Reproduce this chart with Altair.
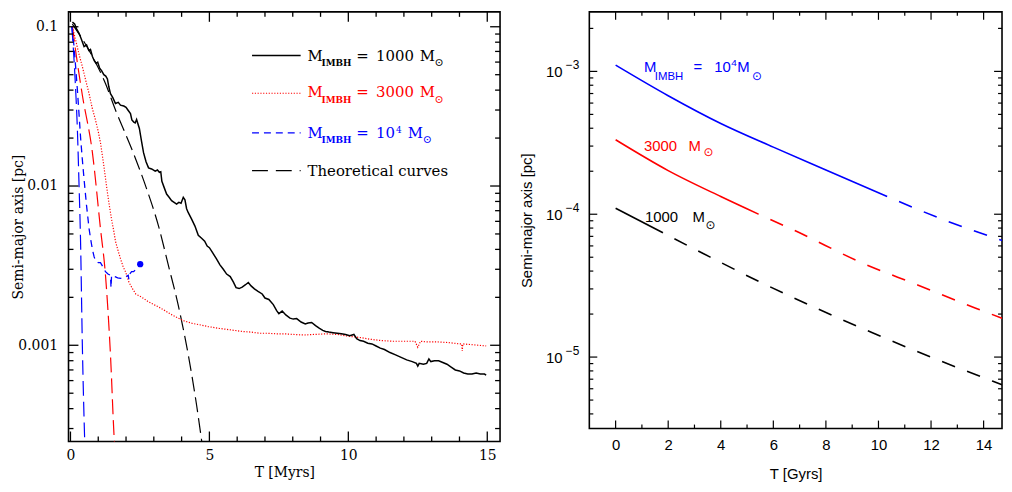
import altair as alt
import pandas as pd

SERIF = "DejaVu Serif"
SANS = "Liberation Sans"
RED = "#ff0000"
BLUE = "#0000ff"
BLACK = "#000000"

# ---------------- left panel: N-body runs (T in Myr, a in pc) ----------------
bh1000 = [(0.07,0.107),(0.15,0.104),(0.22,0.097),(0.31,0.091),(0.4,0.083),(0.49,0.075),(0.58,0.077),
          (0.66,0.071),(0.72,0.072),(0.79,0.065),(0.86,0.061),(0.92,0.059),(0.98,0.060),(1.05,0.055),
          (1.12,0.053),(1.2,0.050),(1.27,0.049),(1.33,0.047),(1.38,0.042),(1.44,0.038),(1.52,0.036),
          (1.62,0.033),(1.72,0.0335),(1.8,0.0322),(1.92,0.0318),(2.0,0.0312),(2.08,0.0298),(2.16,0.0285),
          (2.21,0.026),(2.28,0.0252),(2.33,0.0249),(2.38,0.0262),(2.43,0.0245),(2.48,0.023),(2.56,0.019),
          (2.63,0.0162),(2.72,0.0142),(2.81,0.013),(2.92,0.0128),(3.05,0.0124),(3.13,0.0126),(3.2,0.0122),
          (3.25,0.0123),(3.29,0.0107),(3.38,0.0097),(3.46,0.0089),(3.55,0.0085),(3.64,0.0081),(3.73,0.0079),
          (3.82,0.0077),(3.9,0.0079),(3.98,0.0078),(4.06,0.0085),(4.12,0.0082),(4.18,0.0072),(4.24,0.0068),
          (4.36,0.0062),(4.48,0.0056),(4.6,0.0049),(4.72,0.0047),(4.83,0.0045),(4.92,0.0042),(5.0,0.0041),
          (5.12,0.0038),(5.25,0.0035),(5.38,0.0032),(5.5,0.003),(5.62,0.0028),(5.75,0.0027),(5.86,0.0025),
          (5.96,0.0023),(6.07,0.00227),(6.18,0.00232),(6.3,0.0024),(6.4,0.00248),(6.5,0.00236),(6.62,0.00226),
          (6.75,0.00218),(6.9,0.0021),(7.0,0.00198),(7.14,0.00194),(7.3,0.0018),(7.42,0.00165),(7.5,0.00158),
          (7.62,0.00164),(7.75,0.00155),(7.9,0.00148),(8.02,0.00146),(8.14,0.00147),(8.3,0.0014),(8.45,0.00136),
          (8.55,0.00138),(8.68,0.00139),(8.82,0.00133),(8.95,0.00128),(9.08,0.00124),(9.18,0.00122),(9.3,0.00121),
          (9.45,0.0012),(9.6,0.00119),(9.75,0.00118),(9.9,0.00117),(10.05,0.00115),(10.2,0.00117),(10.3,0.0011),
          (10.42,0.00107),(10.55,0.00106),(10.7,0.00103),(10.85,0.00102),(11.0,0.00099),(11.15,0.00096),
          (11.3,0.00094),(11.5,0.0009),(11.7,0.00087),(11.9,0.00084),(12.1,0.00081),(12.3,0.00079),(12.45,0.00077),
          (12.5,0.00074),(12.55,0.00077),(12.7,0.00076),(12.82,0.00077),(12.9,0.00082),(12.97,0.00079),(13.1,0.0008),
          (13.25,0.0008),(13.4,0.00078),(13.55,0.00076),(13.7,0.00073),(13.85,0.0007),(14.0,0.00069),(14.15,0.00067),
          (14.3,0.00066),(14.45,0.00066),(14.6,0.00067),(14.75,0.00066),(14.9,0.00066),(14.96,0.00065)]

bh3000 = [(0.07,0.1),(0.19,0.082),(0.3,0.068),(0.43,0.056),(0.55,0.046),(0.67,0.038),(0.78,0.031),(0.9,0.026),
          (1.0,0.022),(1.08,0.0187),(1.2,0.0134),(1.29,0.0102),(1.38,0.0079),(1.47,0.0063),(1.56,0.0052),
          (1.62,0.0045),(1.7,0.004),(1.8,0.0035),(1.9,0.0031),(1.98,0.0029),(2.1,0.0025),(2.21,0.0023),
          (2.35,0.0021),(2.57,0.002),(2.8,0.00188),(3.0,0.0018),(3.17,0.00174),(3.4,0.00165),(3.6,0.00157),
          (3.88,0.00148),(4.1,0.00142),(4.4,0.00137),(4.7,0.00134),(4.95,0.00131),(5.3,0.00128),(5.6,0.00126),
          (5.9,0.00124),(6.2,0.00122),(6.5,0.00121),(6.8,0.00119),(7.1,0.00119),(7.4,0.00118),(7.7,0.00118),
          (8.0,0.00117),(8.4,0.00116),(8.8,0.00117),(9.2,0.00118),(9.6,0.00117),(10.0,0.00114),(10.4,0.00112),
          (10.8,0.00109),(11.2,0.00107),(11.6,0.00106),(12.0,0.00106),(12.4,0.00106),(12.5,0.00097),(12.6,0.00106),
          (12.8,0.00105),(13.2,0.00105),(13.6,0.00104),(14.0,0.00102),(14.08,0.00102),(14.1,0.00092),
          (14.12,0.00102),(14.4,0.00101),(14.96,0.00099)]

bh10k = [(0.05,0.1),(0.13,0.075),(0.19,0.055),(0.25,0.04),(0.31,0.028),(0.37,0.0195),(0.43,0.0145),(0.49,0.011),
         (0.58,0.0075),(0.67,0.0054),(0.73,0.0046),(0.79,0.004),(0.85,0.0036),(0.9,0.0034),(1.0,0.0033),
         (1.08,0.0033),(1.17,0.0031),(1.26,0.0029),(1.35,0.0028),(1.44,0.00275),(1.46,0.0023),(1.48,0.00275),
         (1.6,0.0027),(1.7,0.00265),(1.8,0.00263),(1.9,0.00266),(2.0,0.0027),(2.08,0.00275),(2.1,0.0026),
         (2.12,0.00278),(2.2,0.0029),(2.27,0.0029),(2.36,0.003),(2.44,0.0031),(2.51,0.00323)]
bh10k_end = [(2.51, 0.00323)]

theo1000 = [(0.07,0.104),(0.67,0.071),(1.26,0.044),(1.62,0.030),(2.21,0.017),(2.75,0.0095),(3.17,0.0056),
            (3.52,0.0032),(3.88,0.00178),(4.24,0.00087),(4.54,0.00042),(4.71,0.00026),(4.8,0.0002)]
theo3000 = [(0.07,0.1),(0.25,0.059),(0.43,0.037),(0.79,0.0162),(1.08,0.0054),(1.26,0.00276),(1.44,0.00087),
            (1.58,0.00025),(1.62,0.0002)]
theo10k = [(0.05,0.1),(0.17,0.046),(0.25,0.0224),(0.31,0.01),(0.36,0.0048),(0.43,0.00096),(0.51,0.00026),
           (0.53,0.0002)]

left_xmaj = [0, 5, 10, 15]
left_xmin = [1, 2, 3, 4, 6, 7, 8, 9, 11, 12, 13, 14]
left_ymaj = [0.001, 0.01, 0.1]
left_ymin = [3e-4, 4e-4, 5e-4, 6e-4, 7e-4, 8e-4, 9e-4, 2e-3, 3e-3, 4e-3, 5e-3, 6e-3, 7e-3, 8e-3, 9e-3,
             0.02, 0.03, 0.04, 0.05, 0.06, 0.07, 0.08, 0.09]

# ---------------- right panel: long-term evolution (T in Gyr, a in pc) ----------------
r10k_solid = [(0,1.107e-3),(2,6.76e-4),(4,4.32e-4),(6,2.95e-4),(8,2.04e-4),(10.33,1.33e-4)]
r10k_dash = [(10.33,1.33e-4),(12.5,9.12e-5),(14.8,6.46e-5)]
r3000_solid = [(0,3.32e-4),(2,2.02e-4),(4,1.33e-4),(5.44,1.0e-4)]
r3000_dash = [(5.44,1.0e-4),(7,7.41e-5),(9.27,4.65e-5),(11.49,3.2e-5),(13.7,2.2e-5),(14.8,1.84e-5)]
r1000_solid = [(0,1.10e-4),(1.8,7.41e-5)]
r1000_dash = [(1.8,7.41e-5),(3.6,5.01e-5),(5.44,3.39e-5),(7.54,2.24e-5),(9.77,1.48e-5),(11.99,1.0e-5),
              (14.33,6.8e-6),(14.8,6.3e-6)]

right_xmaj = [0, 2, 4, 6, 8, 10, 12, 14]
right_xmin = [1, 3, 5, 7, 9, 11, 13]
right_ymaj = [1e-5, 1e-4, 1e-3]
right_yexp = ["\u22125", "\u22124", "\u22123"]
right_ymin = [4e-6, 5e-6, 6e-6, 7e-6, 8e-6, 9e-6, 2e-5, 3e-5, 4e-5, 5e-5, 6e-5, 7e-5, 8e-5, 9e-5,
              2e-4, 3e-4, 4e-4, 5e-4, 6e-4, 7e-4, 8e-4, 9e-4, 2e-3]

LW, LH = 435, 433
RW, RH = 416, 420

lx = alt.Scale(domain=[-0.07, 15.46], nice=False, zero=False)
ly = alt.Scale(type="log", domain=[2.49e-4, 0.124], nice=False)
rx = alt.Scale(domain=[-1, 14.7], nice=False, zero=False)
ry = alt.Scale(type="log", domain=[3.16e-6, 2.61e-3], nice=False)

common = dict(ticks=False, tickSize=0, domain=False, grid=False, labelColor="black",
              titleColor="black", titleFontWeight="normal", labelFlush=False)

lxa = alt.Axis(title="T [Myrs]", values=left_xmaj, labelFont=SERIF, labelFontSize=14, labelPadding=7,
               titleFont=SERIF, titleFontSize=14, titlePadding=3, **common)
lya = alt.Axis(title="Semi-major axis [pc]", values=left_ymaj, format="~g", labelFont=SERIF,
               labelFontSize=14, labelPadding=11, titleFont=SERIF, titleFontSize=14,
               titleX=-50, titleY=LH / 2, titleAngle=270, titleBaseline="middle", titleAlign="center",
               **common)
rxa = alt.Axis(title="T [Gyrs]", values=right_xmaj, labelFont=SANS, labelFontSize=15, labelPadding=9,
               titleFont=SANS, titleFontSize=15, titlePadding=14, **common)
rya = alt.Axis(title="Semi-major axis [pc]", labels=False, titleFont=SANS, titleFontSize=15,
               titleX=-63, titleY=RH / 2, titleAngle=270, titleBaseline="middle", titleAlign="center",
               **common)

one = pd.DataFrame({"k": [0]})


def series(pairs, xs, ys, xa, ya, **mk):
    df = pd.DataFrame(pairs, columns=["t", "a"])
    return alt.Chart(df).mark_line(clip=True, **mk).encode(
        x=alt.X("t:Q", scale=xs, axis=xa), y=alt.Y("a:Q", scale=ys, axis=ya))


def xticks(vals, xs, xa, H, L, top, w):
    df = pd.DataFrame({"v": vals})
    y1, y2 = (0, L) if top else (H, H - L)
    return alt.Chart(df).mark_rule(color="black", strokeWidth=w).encode(
        x=alt.X("v:Q", scale=xs, axis=xa), y=alt.value(y1), y2=alt.value(y2))


def yticks(vals, ys, ya, W, L, right, w):
    df = pd.DataFrame({"v": vals})
    x1, x2 = (W - L, W) if right else (0, L)
    return alt.Chart(df).mark_rule(color="black", strokeWidth=w).encode(
        y=alt.Y("v:Q", scale=ys, axis=ya), x=alt.value(x1), x2=alt.value(x2))


def txt(s, x, y, size, color=BLACK, font=SERIF, weight="normal"):
    return alt.Chart(one).mark_text(text=s, align="left", baseline="alphabetic", fontSize=size,
                                    font=font, color=color, fontWeight=weight).encode(
        x=alt.value(x), y=alt.value(y))


def legline(y, color, dash, w):
    kw = dict(color=color, strokeWidth=w)
    if dash:
        kw["strokeDash"] = dash
    return alt.Chart(one).mark_rule(**kw).encode(x=alt.value(185), x2=alt.value(234), y=alt.value(y))


LDASH = [15, 6]
left_layers = [
    series(theo1000, lx, ly, lxa, lya, color=BLACK, strokeWidth=1.2, strokeDash=LDASH, interpolate="monotone"),
    series(theo3000, lx, ly, lxa, lya, color=RED, strokeWidth=1.2, strokeDash=LDASH, interpolate="monotone"),
    series(theo10k, lx, ly, lxa, lya, color=BLUE, strokeWidth=1.2, strokeDash=LDASH, interpolate="monotone"),
    series(bh3000, lx, ly, lxa, lya, color=RED, strokeWidth=1.2, strokeDash=[1.2, 1.6]),
    series(bh10k, lx, ly, lxa, lya, color=BLUE, strokeWidth=1.3, strokeDash=[7, 5]),
    series(bh1000, lx, ly, lxa, lya, color=BLACK, strokeWidth=1.5),
    alt.Chart(pd.DataFrame(bh10k_end, columns=["t", "a"])).mark_circle(color=BLUE, opacity=1, size=40).encode(
        x=alt.X("t:Q", scale=lx, axis=lxa), y=alt.Y("a:Q", scale=ly, axis=lya)),
    xticks(left_xmaj, lx, lxa, LH, 10, False, 1.3), xticks(left_xmaj, lx, lxa, LH, 10, True, 1.3),
    xticks(left_xmin, lx, lxa, LH, 5, False, 1.3), xticks(left_xmin, lx, lxa, LH, 5, True, 1.3),
    yticks(left_ymaj, ly, lya, LW, 10, False, 1.3), yticks(left_ymaj, ly, lya, LW, 10, True, 1.3),
    yticks(left_ymin, ly, lya, LW, 5, False, 1.3), yticks(left_ymin, ly, lya, LW, 5, True, 1.3),
    # legend
    legline(44, BLACK, None, 1.5), legline(82, RED, [1.2, 1.6], 1.2), legline(122, BLUE, [7, 5], 1.3),
    legline(160, BLACK, [16, 8], 1.2),
]
for row_y, sub_y, color, num in [(50, 55, BLACK, "1000"), (86, 92, RED, "3000")]:
    left_layers += [txt("M", 241, row_y, 15, color), txt("IMBH", 255, sub_y, 9, color, weight="bold"),
                    txt("=", 290, row_y, 15, color), txt(num, 310, row_y, 15, color),
                    txt("M", 354, row_y, 15, color), txt("\u2299", 369, sub_y, 11, color)]
left_layers += [txt("M", 241, 127, 15, BLUE), txt("IMBH", 255, 132, 9, BLUE, weight="bold"),
                txt("=", 290, 127, 15, BLUE), txt("10", 310, 127, 15, BLUE), txt("4", 330, 122, 9, BLUE),
                txt("M", 342, 127, 15, BLUE), txt("\u2299", 357, 132, 11, BLUE),
                txt("Theoretical curves", 241, 165, 15, BLACK)]

left = alt.layer(*left_layers).properties(width=LW, height=LH)

RDASH = [14, 13]
exp_df = pd.DataFrame({"v": right_ymaj, "e": right_yexp})
right_layers = [
    series(r10k_solid, rx, ry, rxa, rya, color=BLUE, strokeWidth=1.6, interpolate="monotone"),
    series(r10k_dash, rx, ry, rxa, rya, color=BLUE, strokeWidth=1.6, strokeDash=RDASH, strokeDashOffset=14,
           interpolate="monotone"),
    series(r3000_solid, rx, ry, rxa, rya, color=RED, strokeWidth=1.6, interpolate="monotone"),
    series(r3000_dash, rx, ry, rxa, rya, color=RED, strokeWidth=1.6, strokeDash=RDASH, strokeDashOffset=14,
           interpolate="monotone"),
    series(r1000_solid, rx, ry, rxa, rya, color=BLACK, strokeWidth=1.6),
    series(r1000_dash, rx, ry, rxa, rya, color=BLACK, strokeWidth=1.6, strokeDash=RDASH, strokeDashOffset=14,
           interpolate="monotone"),
    xticks(right_xmaj, rx, rxa, RH, 8, False, 1.2), xticks(right_xmaj, rx, rxa, RH, 8, True, 1.2),
    xticks(right_xmin, rx, rxa, RH, 4, False, 1.2), xticks(right_xmin, rx, rxa, RH, 4, True, 1.2),
    yticks(right_ymaj, ry, rya, RW, 8, False, 1.2), yticks(right_ymaj, ry, rya, RW, 8, True, 1.2),
    yticks(right_ymin, ry, rya, RW, 4, False, 1.2), yticks(right_ymin, ry, rya, RW, 4, True, 1.2),
    alt.Chart(exp_df).mark_text(text="10", align="right", baseline="alphabetic", dy=5.5, fontSize=15,
                                font=SANS, color=BLACK).encode(
        y=alt.Y("v:Q", scale=ry, axis=rya), x=alt.value(-27)),
    alt.Chart(exp_df).mark_text(align="right", baseline="alphabetic", dy=-2, fontSize=12,
                                font=SANS, color=BLACK).encode(
        y=alt.Y("v:Q", scale=ry, axis=rya), x=alt.value(-10), text="e:N"),
    # annotations
    txt("M", 55, 61, 15, BLUE, SANS), txt("IMBH", 66, 69, 11.5, BLUE, SANS), txt("=", 105, 61, 15, BLUE, SANS),
    txt("10", 126, 61, 15, BLUE, SANS), txt("4", 143, 55, 10, BLUE, SANS), txt("M", 149, 61, 15, BLUE, SANS),
    txt("\u2299", 164, 69, 12, BLUE, "DejaVu Sans"),
    txt("3000", 55, 140, 15, RED, SANS), txt("M", 100, 140, 15, RED, SANS),
    txt("\u2299", 115, 145, 12, RED, "DejaVu Sans"),
    txt("1000", 56, 212, 15, BLACK, SANS), txt("M", 104, 212, 15, BLACK, SANS),
    txt("\u2299", 117, 219, 12, BLACK, "DejaVu Sans"),
]
right = alt.layer(*right_layers).properties(width=RW, height=RH)

chart = alt.hconcat(left, right, spacing=17).properties(
    padding={"left": 3, "top": 0, "right": 0, "bottom": 0}, background="white"
).configure_view(stroke="black", strokeWidth=1.6)

chart.save("out.html", embed_options={"renderer": "svg", "actions": False})
